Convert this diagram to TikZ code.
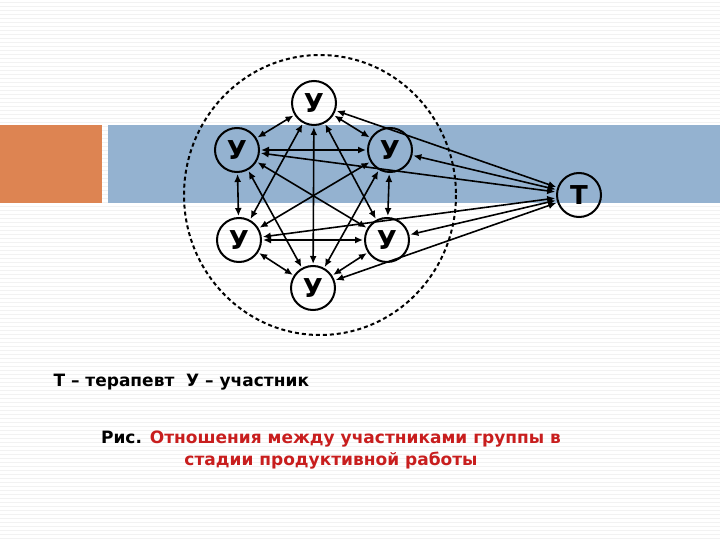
\documentclass[tikz,border=0pt]{standalone}
\usepackage{fontspec}
\setmainfont{DejaVu Sans}
\usetikzlibrary{arrows.meta}
\definecolor{band}{RGB}{148,178,208}
\definecolor{org}{RGB}{221,132,82}
\definecolor{capred}{RGB}{200,30,30}
\tikzset{pers/.style={circle,draw,line width=2pt,minimum size=44pt,inner sep=0pt,font=\bfseries\fontsize{26}{26}\selectfont},
lnk/.style={line width=1.6pt,{Latex[length=8pt,width=7pt]}-{Latex[length=8pt,width=7pt]},shorten <=1pt,shorten >=1pt}}
\begin{document}
\begin{tikzpicture}[x=1pt,y=-1pt]
\useasboundingbox (0,0) rectangle (720,540);
\fill[white] (0,0) rectangle (720,540);
\foreach \yy in {2,6,...,538} \draw[black!5,line width=0.4pt] (0,\yy) -- (720,\yy);
\fill[org] (0,125) rectangle (102,203);
\fill[band] (108,125) rectangle (720,203);
\draw[line width=2pt,dash pattern=on 4pt off 3pt] (320,195) ellipse [x radius=136,y radius=140];
\node[pers] (a) at (314,103) {У};
\node[pers] (b) at (237,150) {У};
\node[pers] (c) at (390,150) {У};
\node[pers] (d) at (239,240) {У};
\node[pers] (e) at (387,240) {У};
\node[pers] (f) at (313,288) {У};
\node[pers] (t) at (579,195) {Т};
\foreach \p/\q in {a/b,a/c,a/d,a/e,a/f,b/c,b/d,b/e,b/f,c/d,c/e,c/f,d/e,d/f,e/f,a/t,b/t,c/t,d/t,e/t,f/t}
  \draw[lnk] (\p) -- (\q);
\node[anchor=west,font=\bfseries\fontsize{17}{17}\selectfont] (leg) at (50,382) {Т – терапевт\ \ У – участник};
\node[align=center,font=\bfseries\fontsize{17}{22}\selectfont] (cap) at (331,450) {Рис. \textcolor{capred}{Отношения между участниками группы в}\\ \textcolor{capred}{стадии продуктивной работы}};
\end{tikzpicture}
\end{document}
